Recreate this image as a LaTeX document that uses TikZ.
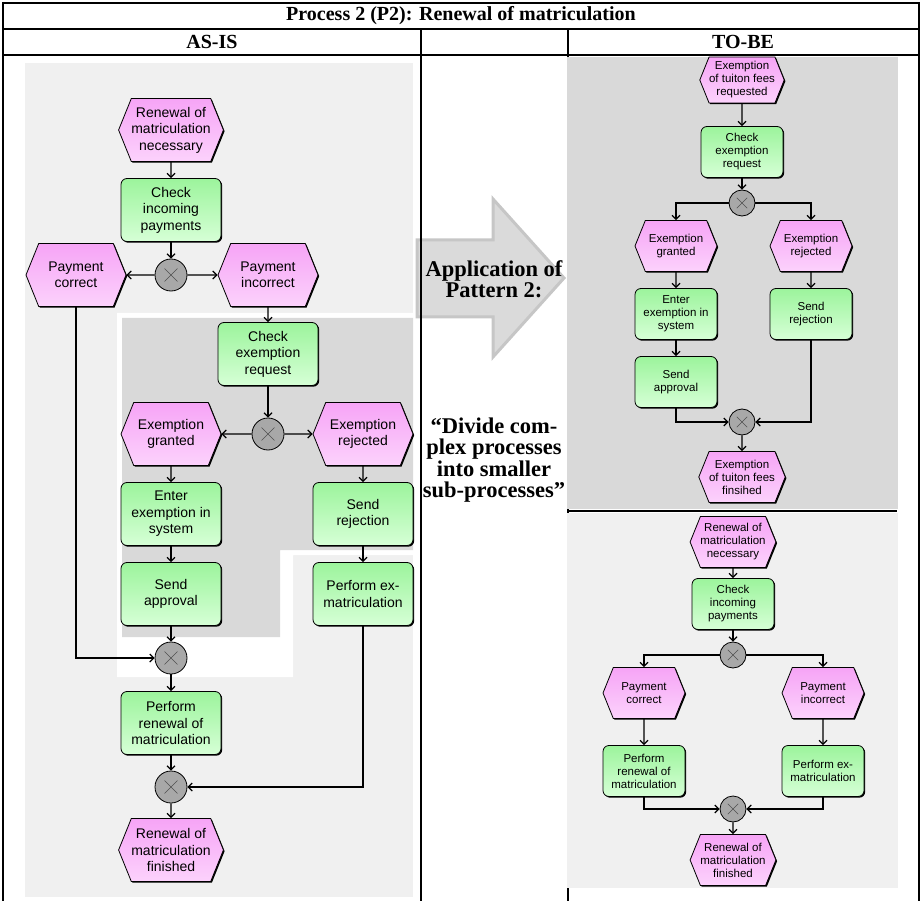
\documentclass[tikz,border=0pt]{standalone}
\usepackage{fontspec}
\setmainfont{Liberation Serif}
\newfontfamily\arisfont{Liberation Sans}
\usetikzlibrary{arrows.meta,shadows,shapes.symbols}

\definecolor{lightbg}{RGB}{240,240,240}
\definecolor{darkbg}{RGB}{217,217,217}
\definecolor{evtop}{RGB}{246,164,246}
\definecolor{evbot}{RGB}{252,210,252}
\definecolor{fntop}{RGB}{156,244,156}
\definecolor{fnbot}{RGB}{214,255,214}
\definecolor{xorfill}{RGB}{168,168,168}
\definecolor{xorcross}{RGB}{80,80,80}
\definecolor{arrowfill}{RGB}{218,218,218}
\definecolor{arrowedge}{RGB}{198,198,198}

\begin{document}
\begin{tikzpicture}[x=1pt,y=-1pt,
  rule/.style={line width=2pt},
  headtext/.style={font=\bfseries\fontsize{20}{22}\selectfont, inner sep=0pt},
  midtext/.style={font=\bfseries\fontsize{22.5}{21.5}\selectfont, align=center, inner sep=0pt},
  shade/.style={drop shadow={shadow xshift=1.2pt, shadow yshift=-1.2pt, opacity=1, fill=black}},
  evt/.style={signal, signal to=east and west, signal from=nowhere, signal pointer angle=136,
    draw=black, line width=0.8pt, top color=evtop, bottom color=evbot, align=center,
    inner sep=0pt, shade},
  fn/.style={rectangle, rounded corners=6pt, draw=black, line width=0.8pt,
    top color=fntop, bottom color=fnbot, align=center, inner sep=0pt, shade},
  big/.style={font=\arisfont\fontsize{14}{16.5}\selectfont, minimum width=100pt, minimum height=63pt},
  small/.style={font=\arisfont\fontsize{11.5}{13}\selectfont, minimum width=82pt, minimum height=51pt},
  xor/.style={circle, draw=black, line width=0.8pt, fill=xorfill, minimum size=#1pt, inner sep=0pt,
    path picture={\draw[line width=0.6pt, draw=xorcross]
      (path picture bounding box.center) +(-0.2*#1pt,-0.2*#1pt) -- +(0.2*#1pt,0.2*#1pt)
      (path picture bounding box.center) +(-0.2*#1pt,0.2*#1pt) -- +(0.2*#1pt,-0.2*#1pt);}},
  flow/.style={draw=black, line width=1.3pt, -{Straight Barb[length=4pt,width=8pt,line width=1.2pt]}}
]
\useasboundingbox (0,0) rectangle (921,901);

% column rule hidden behind the TO-BE panels
\draw[rule] (568,29) -- (568,901);

% panels
\fill[lightbg] (25,63) rectangle (413,897);
\fill[white] (117,313) -- (413,313) -- (413,555) -- (293,555) -- (293,677) -- (117,677) -- cycle;
\fill[darkbg] (122,318) -- (413,318) -- (413,550) -- (280,550) -- (280,637) -- (122,637) -- cycle;
\fill[darkbg] (567,57) rectangle (898,509);
\fill[lightbg] (567,513) rectangle (898,888);

% transformation arrow
\draw[arrowedge, fill=arrowfill, line width=3pt, line join=miter]
  (417,240) -- (493,240) -- (493,199) -- (564,278) -- (493,357) -- (493,317) -- (417,317) -- cycle;

% table rules
\draw[rule] (3,3) -- (919,3);
\draw[rule] (3,29) -- (919,29);
\draw[rule] (3,55) -- (919,55);
\draw[rule] (3,2) -- (3,901);
\draw[rule] (919,2) -- (919,901);
\draw[rule] (421,29) -- (421,901);
\draw[rule] (568,511) -- (897,511);

% headings
\node[headtext] (title) at (461,16) {Process 2 (P2): Renewal of matriculation};
\node[headtext] (asis) at (212,42) {AS-IS};
\node[headtext] (tobe) at (743,42) {TO-BE};
\node[midtext] (pattern) at (494,279) {Application of\\Pattern 2:};
\node[midtext] (motto) at (494,460) {“Divide com-\\plex processes\\into smaller\\sub-processes”};

% AS-IS process
\node[evt,big] (rmn) at (171,130) {Renewal of\\matriculation\\necessary};
\node[fn,big] (cip) at (171,210) {Check\\incoming\\payments};
\node[xor=32] (x1) at (171,275) {};
\node[evt,big] (pc) at (76,275) {Payment\\correct};
\node[evt,big] (pi) at (268,275) {Payment\\incorrect};
\node[fn,big] (cer) at (268,354) {Check\\exemption\\request};
\node[xor=32] (x2) at (268,434) {};
\node[evt,big] (eg) at (171,434) {Exemption\\granted};
\node[evt,big] (er) at (363,434) {Exemption\\rejected};
\node[fn,big] (ees) at (171,514) {Enter\\exemption in\\system};
\node[fn,big] (sr) at (363,514) {Send\\rejection};
\node[fn,big] (sa) at (171,594) {Send\\approval};
\node[fn,big] (pem) at (363,594) {Perform ex-\\matriculation};
\node[xor=32] (x3) at (171,658) {};
\node[fn,big] (prm) at (171,723) {Perform\\renewal of\\matriculation};
\node[xor=32] (x4) at (171,787) {};
\node[evt,big] (rmf) at (171,850) {Renewal of\\matriculation\\finished};

\draw[flow] (rmn) -- (cip);
\draw[flow] (cip) -- (x1);
\draw[flow] (x1) -- (pc);
\draw[flow] (x1) -- (pi);
\draw[flow] (pi) -- (cer);
\draw[flow] (cer) -- (x2);
\draw[flow] (x2) -- (eg);
\draw[flow] (x2) -- (er);
\draw[flow] (eg) -- (ees);
\draw[flow] (er) -- (sr);
\draw[flow] (ees) -- (sa);
\draw[flow] (sr) -- (pem);
\draw[flow] (sa) -- (x3);
\draw[flow] (pc.south) |- (x3.west);
\draw[flow] (x3) -- (prm);
\draw[flow] (prm) -- (x4);
\draw[flow] (pem.south) |- (x4.east);
\draw[flow] (x4) -- (rmf);

% TO-BE: exemption sub-process
\node[evt,small,minimum height=46pt] (etr) at (742,80) {Exemption\\of tuiton fees\\requested};
\node[fn,small] (cer2) at (742,152) {Check\\exemption\\request};
\node[xor=26] (xr1) at (742,203) {};
\node[evt,small] (eg2) at (676,246) {Exemption\\granted};
\node[evt,small] (er2) at (811,246) {Exemption\\rejected};
\node[fn,small] (ees2) at (676,314) {Enter\\exemption in\\system};
\node[fn,small] (sr2) at (811,314) {Send\\rejection};
\node[fn,small] (sa2) at (676,382) {Send\\approval};
\node[xor=26] (xr2) at (742,422) {};
\node[evt,small] (etf) at (742,477) {Exemption\\of tuiton fees\\finsihed};

\draw[flow] (etr) -- (cer2);
\draw[flow] (cer2) -- (xr1);
\draw[flow] (xr1.west) -| (eg2.north);
\draw[flow] (xr1.east) -| (er2.north);
\draw[flow] (eg2) -- (ees2);
\draw[flow] (er2) -- (sr2);
\draw[flow] (ees2) -- (sa2);
\draw[flow] (sa2.south) |- (xr2.west);
\draw[flow] (sr2.south) |- (xr2.east);
\draw[flow] (xr2) -- (etf);

% TO-BE: renewal process
\node[evt,small] (rmn2) at (733,542) {Renewal of\\matriculation\\necessary};
\node[fn,small] (cip2) at (733,604) {Check\\incoming\\payments};
\node[xor=26] (xl1) at (733,655) {};
\node[evt,small] (pc2) at (644,693) {Payment\\correct};
\node[evt,small] (pi2) at (823,693) {Payment\\incorrect};
\node[fn,small] (prm2) at (644,771) {Perform\\renewal of\\matriculation};
\node[fn,small] (pem2) at (823,771) {Perform ex-\\matriculation};
\node[xor=26] (xl2) at (733,809) {};
\node[evt,small] (rmf2) at (733,860) {Renewal of\\matriculation\\finished};

\draw[flow] (rmn2) -- (cip2);
\draw[flow] (cip2) -- (xl1);
\draw[flow] (xl1.west) -| (pc2.north);
\draw[flow] (xl1.east) -| (pi2.north);
\draw[flow] (pc2) -- (prm2);
\draw[flow] (pi2) -- (pem2);
\draw[flow] (prm2.south) |- (xl2.west);
\draw[flow] (pem2.south) |- (xl2.east);
\draw[flow] (xl2) -- (rmf2);
\end{tikzpicture}
\end{document}
